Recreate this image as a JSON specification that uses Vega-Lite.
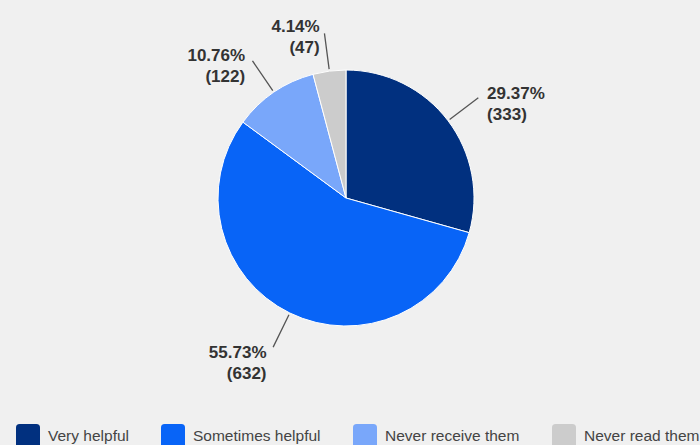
{
  "$schema": "https://vega.github.io/schema/vega-lite/v6.json",
  "width": 682,
  "height": 378,
  "autosize": "none",
  "padding": {"left": 5, "top": 9, "right": 13, "bottom": 58},
  "background": "#f0f0f0",
  "view": {"stroke": null},
  "data": {
    "values": [
      {"response": "Very helpful", "count": 333},
      {"response": "Sometimes helpful", "count": 632},
      {"response": "Never receive them", "count": 122},
      {"response": "Never read them", "count": 47}
    ]
  },
  "transform": [
    {"window": [{"op": "sum", "field": "count", "as": "cum"}, {"op": "row_number", "as": "rn"}], "frame": [null, 0]},
    {"joinaggregate": [{"op": "sum", "field": "count", "as": "total"}]},
    {"calculate": "datum.cum - datum.count / 2", "as": "mid"},
    {"calculate": "format(datum.count / datum.total, '.2%') + '\\n(' + datum.count + ')'", "as": "label"}
  ],
  "layer": [
    {
      "mark": {"type": "arc", "radius": 128, "stroke": "white", "strokeWidth": 1},
      "encoding": {
        "theta": {"field": "count", "type": "quantitative", "stack": true},
        "order": {"field": "rn", "type": "quantitative"},
        "color": {
          "field": "response",
          "type": "nominal",
          "scale": {
            "domain": ["Very helpful", "Sometimes helpful", "Never receive them", "Never read them"],
            "range": ["#01307f", "#0864f7", "#79a7fa", "#cccccc"]
          },
          "legend": {
            "title": null,
            "orient": "none",
            "legendX": 11,
            "legendY": 415,
            "direction": "horizontal",
            "columns": 4,
            "symbolType": "M-0.7,-1L0.7,-1Q1,-1,1,-0.7L1,0.7Q1,1,0.7,1L-0.7,1Q-1,1,-1,0.7L-1,-0.7Q-1,-1,-0.7,-1Z",
            "symbolSize": 576,
            "symbolStrokeWidth": 0,
            "symbolOpacity": 1,
            "labelFontSize": 15.5,
            "labelFont": "Liberation Sans",
            "labelColor": "#444",
            "labelOffset": 8,
            "columnPadding": 32,
            "padding": 0,
            "labelLimit": 300
          }
        }
      }
    },
    {
      "mark": {"type": "arc", "radius": 166, "radius2": 130, "stroke": "#555", "strokeWidth": 1.3, "fill": null},
      "encoding": {
        "theta": {"field": "mid", "type": "quantitative", "stack": null},
        "theta2": {"field": "mid"}
      }
    },
    {
      "transform": [{"filter": "datum.mid < datum.total / 2"}],
      "mark": {"type": "text", "radius": 172, "align": "left", "dx": 4, "baseline": "middle", "fontSize": 17, "fontWeight": "bold", "font": "Liberation Sans", "fill": "#333", "lineBreak": "\n", "lineHeight": 21},
      "encoding": {
        "theta": {"field": "mid", "type": "quantitative", "stack": null},
        "text": {"field": "label", "type": "nominal"}
      }
    },
    {
      "transform": [{"filter": "datum.mid >= datum.total / 2"}],
      "mark": {"type": "text", "radius": 172, "align": "right", "dx": -4, "baseline": "middle", "fontSize": 17, "fontWeight": "bold", "font": "Liberation Sans", "fill": "#333", "lineBreak": "\n", "lineHeight": 21},
      "encoding": {
        "theta": {"field": "mid", "type": "quantitative", "stack": null},
        "text": {"field": "label", "type": "nominal"}
      }
    }
  ]
}
